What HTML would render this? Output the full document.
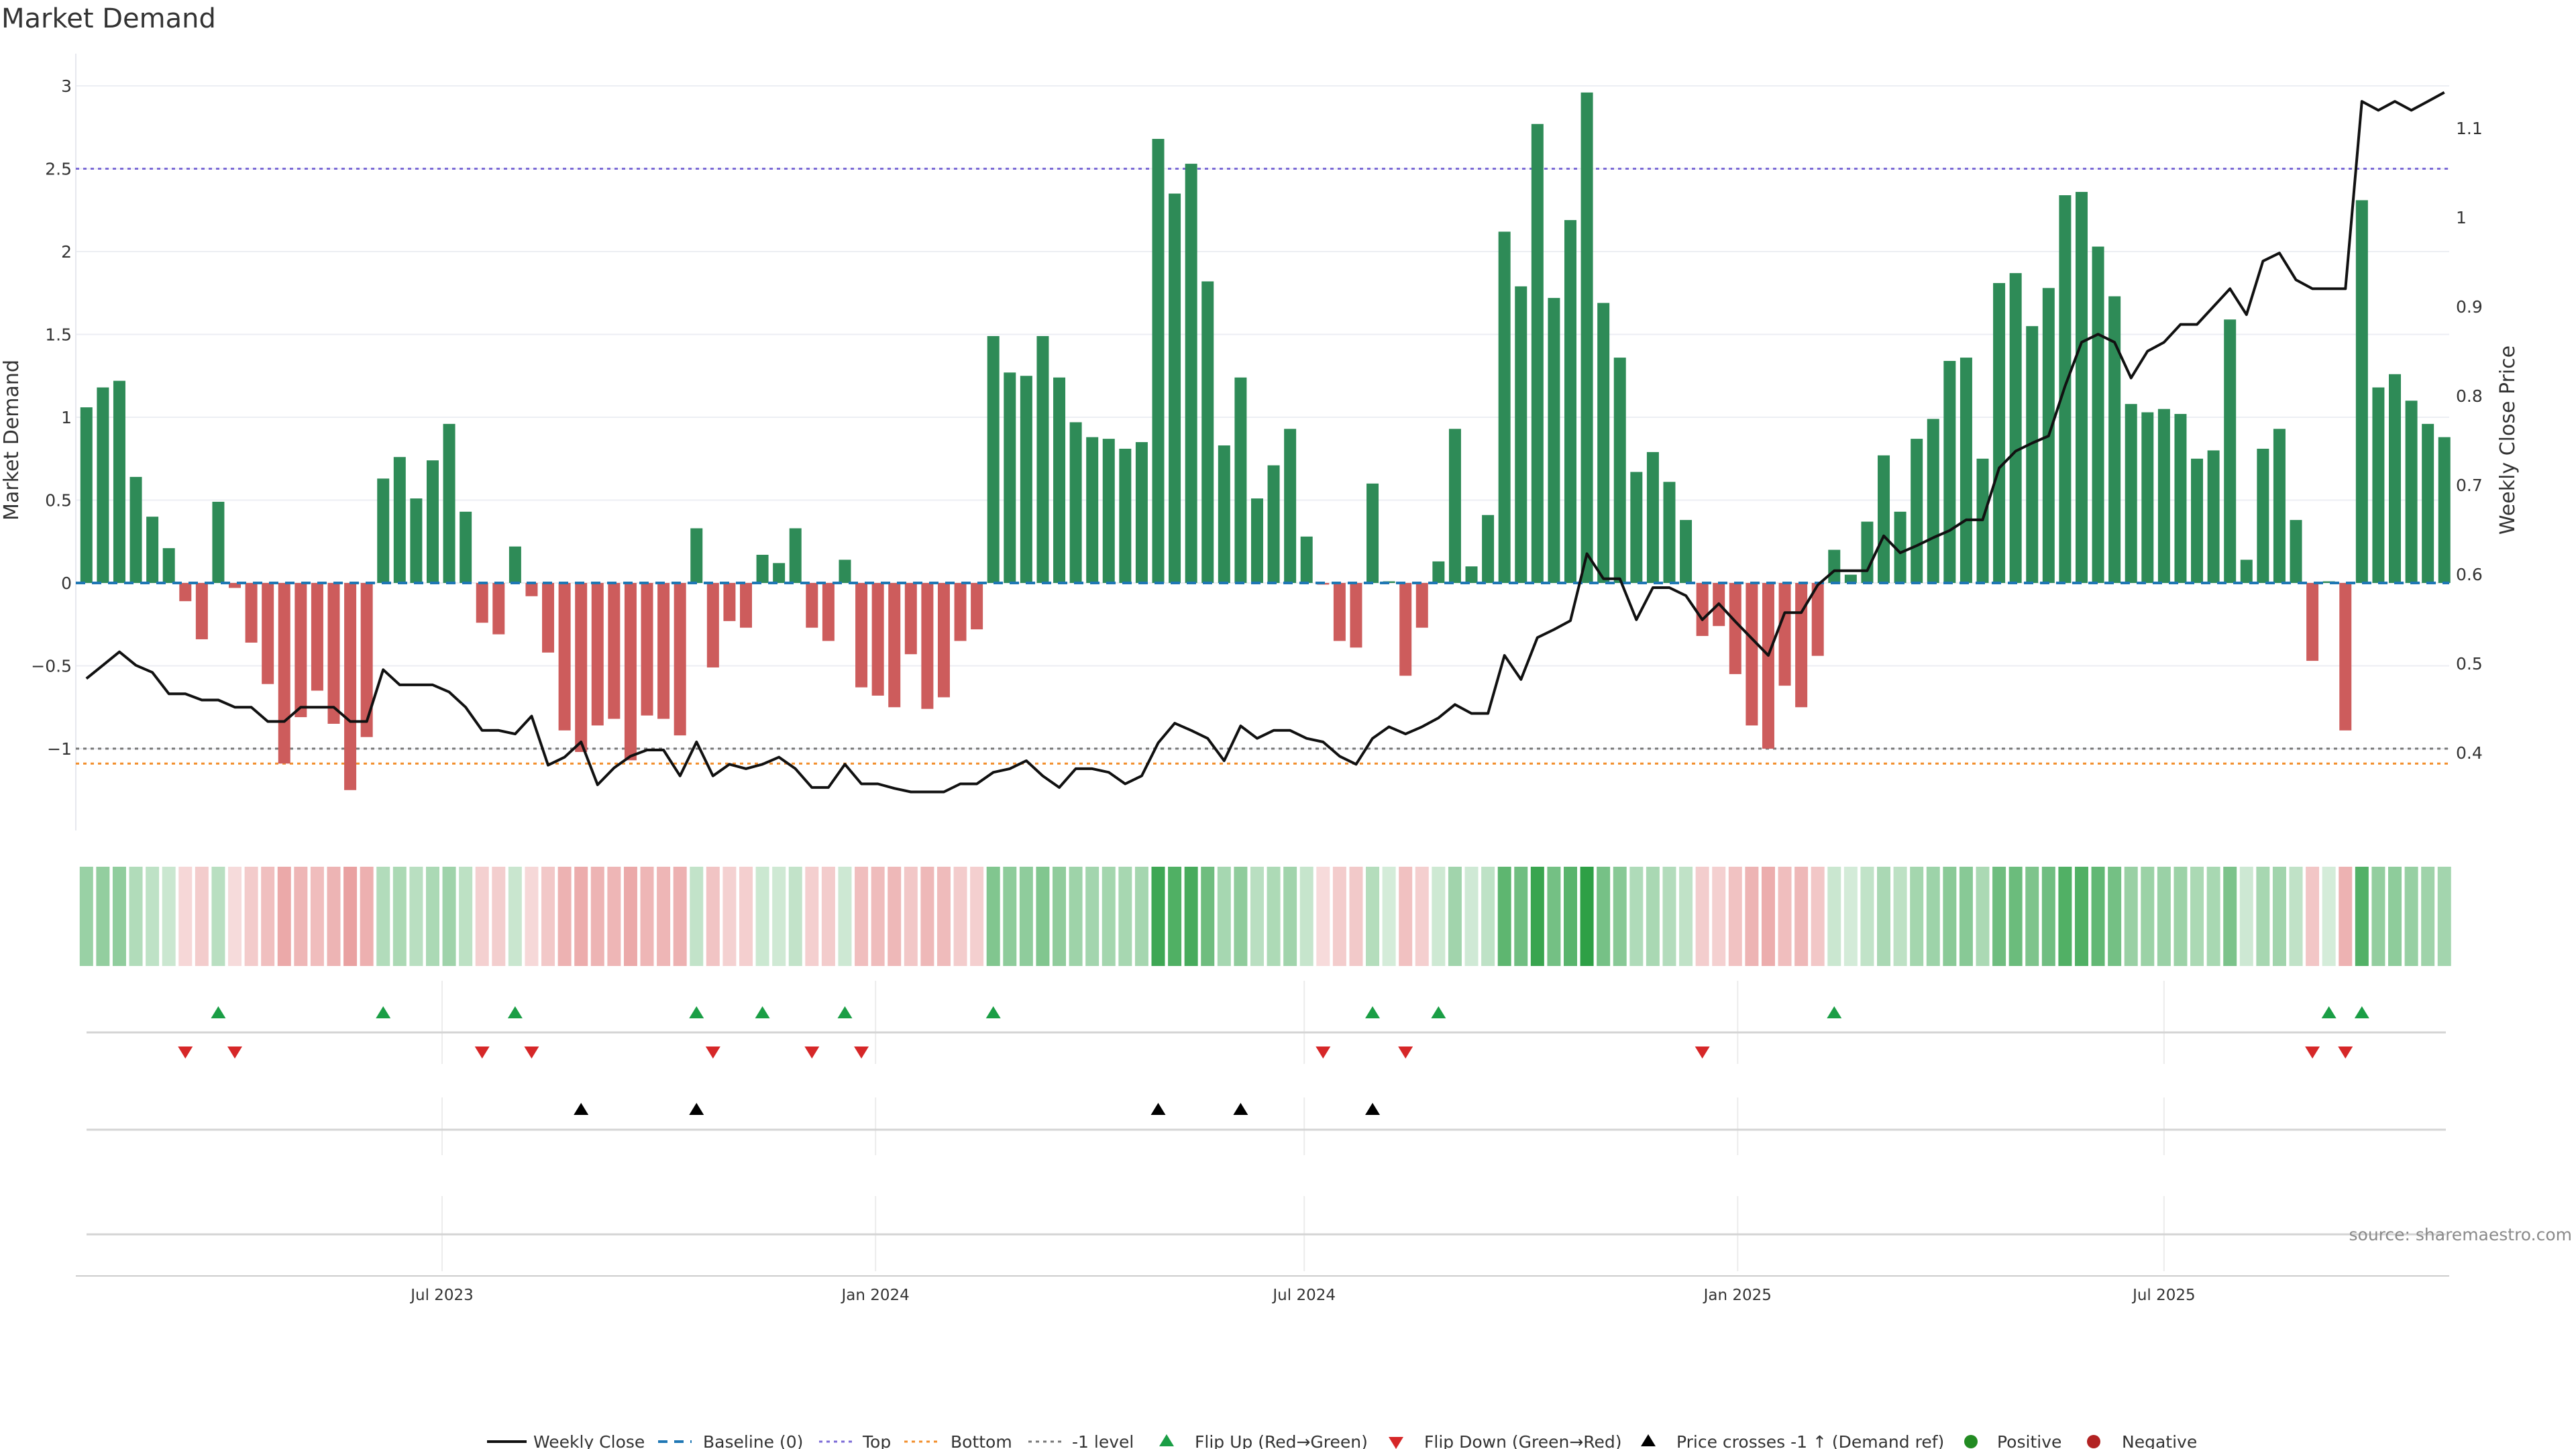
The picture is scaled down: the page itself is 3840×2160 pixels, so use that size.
<!DOCTYPE html>
<html><head><meta charset="utf-8"><title>Market Demand</title>
<style>
html,body{margin:0;padding:0;background:#fff;}
svg{display:block;font-family:"DejaVu Sans","Liberation Sans",sans-serif;}
</style></head>
<body>
<svg id="chart" width="3840" height="2160" viewBox="0 0 3840 2160" xmlns="http://www.w3.org/2000/svg">
<rect width="3840" height="2160" fill="#fff"/>
<text x="2" y="41" font-size="40" fill="#333">Market Demand</text>
<g id="main"></g>
</svg>
<script>
const demand = [1.06,1.18,1.22,0.64,0.40,0.21,-0.11,-0.34,0.49,-0.03,-0.36,-0.61,-1.09,-0.81,-0.65,-0.85,-1.25,-0.93,0.63,0.76,0.51,0.74,0.96,0.43,-0.24,-0.31,0.22,-0.08,-0.42,-0.89,-1.02,-0.86,-0.82,-1.07,-0.80,-0.82,-0.92,0.33,-0.51,-0.23,-0.27,0.17,0.12,0.33,-0.27,-0.35,0.14,-0.63,-0.68,-0.75,-0.43,-0.76,-0.69,-0.35,-0.28,1.49,1.27,1.25,1.49,1.24,0.97,0.88,0.87,0.81,0.85,2.68,2.35,2.53,1.82,0.83,1.24,0.51,0.71,0.93,0.28,-0.01,-0.35,-0.39,0.60,0.01,-0.56,-0.27,0.13,0.93,0.10,0.41,2.12,1.79,2.77,1.72,2.19,2.96,1.69,1.36,0.67,0.79,0.61,0.38,-0.32,-0.26,-0.55,-0.86,-1.00,-0.62,-0.75,-0.44,0.20,0.05,0.37,0.77,0.43,0.87,0.99,1.34,1.36,0.75,1.81,1.87,1.55,1.78,2.34,2.36,2.03,1.73,1.08,1.03,1.05,1.02,0.75,0.80,1.59,0.14,0.81,0.93,0.38,-0.47,0.01,-0.89,2.31,1.18,1.26,1.10,0.96,0.88];
const price = [0.483,0.498,0.513,0.498,0.490,0.466,0.466,0.459,0.459,0.451,0.451,0.435,0.435,0.451,0.451,0.451,0.435,0.435,0.493,0.476,0.476,0.476,0.468,0.451,0.425,0.425,0.421,0.441,0.386,0.395,0.412,0.364,0.383,0.396,0.403,0.403,0.374,0.412,0.374,0.387,0.382,0.387,0.395,0.382,0.361,0.361,0.387,0.365,0.365,0.360,0.356,0.356,0.356,0.365,0.365,0.378,0.382,0.391,0.374,0.361,0.382,0.382,0.378,0.365,0.374,0.411,0.433,0.425,0.416,0.391,0.430,0.416,0.425,0.425,0.416,0.412,0.396,0.387,0.416,0.429,0.421,0.429,0.439,0.454,0.444,0.444,0.509,0.482,0.529,0.538,0.548,0.623,0.595,0.595,0.549,0.585,0.585,0.576,0.549,0.567,0.547,0.528,0.509,0.557,0.557,0.588,0.604,0.604,0.604,0.643,0.624,0.632,0.641,0.649,0.661,0.661,0.719,0.738,0.747,0.755,0.811,0.860,0.869,0.860,0.820,0.850,0.860,0.880,0.880,0.900,0.920,0.891,0.951,0.960,0.930,0.920,0.920,0.920,1.130,1.120,1.130,1.120,1.130,1.140];
const leftTicks = [3,2.5,2,1.5,1,0.5,0,-0.5,-1];
const leftTickLabels = ["3","2.5","2","1.5","1","0.5","0","−0.5","−1"];
const rightTicks = [1.1,1.0,0.9,0.8,0.7,0.6,0.5,0.4];
const rightTickLabels = ["1.1","1","0.9","0.8","0.7","0.6","0.5","0.4"];
const refTop = 2.5;
const refBottom = -1.09;
const refMinus1 = -1;
const crossLevel = 0.405;
const dateTicks = ["2023-07-01","2024-01-01","2024-07-01","2025-01-01","2025-07-01"];
const dateTickLabels = ["Jul 2023","Jan 2024","Jul 2024","Jan 2025","Jul 2025"];
const startDate = "2023-01-31";

const NS = "http://www.w3.org/2000/svg";
const g = document.getElementById('main');
function el(tag, attrs, parent){const e=document.createElementNS(NS,tag);for(const k in attrs)e.setAttribute(k,attrs[k]);(parent||g).appendChild(e);return e;}
const X0=128.8, STEP=24.58;
function xi(i){return X0+i*STEP;}
function yL(v){return 869-247*v;}
function yR(p){return 1122-(p-0.4)*1330;}
const t0=Date.parse(startDate);
function xDate(s){return X0+(Date.parse(s)-t0)/86400000/7*STEP;}
const PL=113, PR=3651;

leftTicks.forEach((v,k)=>{
  const l=el('line',{x1:PL,x2:PR,y1:yL(v),y2:yL(v),stroke:'#eceef3','stroke-width':2});
  
  
  const t=el('text',{x:107,y:yL(v)+9,'text-anchor':'end','font-size':25,fill:'#333'});
  t.textContent=leftTickLabels[k];
  
  
});
rightTicks.forEach((p,k)=>{
  const t=el('text',{x:3661,y:yR(p)+9,'font-size':25,fill:'#333'});
  t.textContent=rightTickLabels[k];
  
  
});
const ax=el('line',{x1:PL,x2:PL,y1:80,y2:1238,stroke:'#e6e8ee','stroke-width':2});



const lt=el('text',{x:0,y:0,'font-size':30,fill:'#333','text-anchor':'middle',transform:'translate(27,656) rotate(-90)'});
lt.textContent='Market Demand';


const rt=el('text',{x:0,y:0,'font-size':30,fill:'#333','text-anchor':'middle',transform:'translate(3748,656) rotate(-90)'});
rt.textContent='Weekly Close Price';



function hline(y,color,dash,name,w){const l=el('line',{x1:PL,x2:PR,y1:y,y2:y,stroke:color,'stroke-width':w||3,'stroke-dasharray':dash});return l;}
hline(yL(refTop),'#7b6ad6','5 6','top-line');
hline(yL(refMinus1),'#777','5 6','minus1-level-line');
hline(yL(refBottom),'#f28e2b','5 6','bottom-line');

const BW=18;
demand.forEach((v,i)=>{
  const y0=yL(0), y1=yL(v);
  const r=el('rect',{x:xi(i)-BW/2,y:Math.min(y0,y1),width:BW,height:Math.max(Math.abs(y1-y0),0.5),fill:v>=0?'#2e8b57':'#cd5c5c'});
  
  
});
hline(yL(0),'#1f77b4','14 10','baseline-zero',4);

const pts=price.map((p,i)=>xi(i).toFixed(1)+','+yR(p).toFixed(1)).join(' ');
const pl=el('polyline',{points:pts,fill:'none',stroke:'#111','stroke-width':4,'stroke-linejoin':'round'});



demand.forEach((v,i)=>{
  const a=Math.min(1,0.2+0.27*Math.abs(v));
  const c=v>=0?`rgba(46,160,70,${a})`:`rgba(214,80,80,${a})`;
  const r=el('rect',{x:xi(i)-10,y:1292,width:20,height:148,fill:c});
  
  
});

[[1462,1586],[1636,1722],[1783,1895]].forEach(([a,b])=>{
  dateTicks.forEach(d=>{
    const l=el('line',{x1:xDate(d),x2:xDate(d),y1:a,y2:b,stroke:'#ececec','stroke-width':2});
    
    
  });
});
[1539,1684,1840].forEach(y=>{
  const l=el('line',{x1:129,x2:3646,y1:y,y2:y,stroke:'#d4d4d4','stroke-width':3});
  
  
});

function tri(x,y,up,color,name){
  const w=11,h=9;
  const p=up?`${x-w},${y+h} ${x+w},${y+h} ${x},${y-h}`:`${x-w},${y-h} ${x+w},${y-h} ${x},${y+h}`;
  const t=el('polygon',{points:p,fill:color});
  
  
}
for(let i=1;i<demand.length;i++){
  if(demand[i-1]<0&&demand[i]>=0) tri(xi(i),1509,true,'#1a9e45','flip-up-marker');
  if(demand[i-1]>=0&&demand[i]<0) tri(xi(i),1569,false,'#d62728','flip-down-marker');
  if(price[i-1]<crossLevel&&price[i]>=crossLevel) tri(xi(i),1653,true,'#000','price-cross-marker');
}

const xa=el('line',{x1:PL,x2:PR,y1:1902,y2:1902,stroke:'#ccc','stroke-width':2});


dateTicks.forEach((d,k)=>{
  const t=el('text',{x:xDate(d),y:1938,'text-anchor':'middle','font-size':23,fill:'#333'});
  t.textContent=dateTickLabels[k];
  
  
});
const src=el('text',{x:3834,y:1849,'text-anchor':'end','font-size':25,fill:'#8a8a8a'});
src.textContent='source: sharemaestro.com';



const LY=2149;
function ltext(x,s){const t=el('text',{x:x,y:LY+9,'font-size':25,fill:'#333'});t.textContent=s;}
function lline(x1,x2,c,dash,w){const l=el('line',{x1:x1,x2:x2,y1:LY,y2:LY,stroke:c,'stroke-width':w,'stroke-dasharray':dash||'none'});}
lline(726,785,'#111',null,4); ltext(795,'Weekly Close');
lline(981,1031,'#1f77b4','14 10',4); ltext(1048,'Baseline (0)');
lline(1221,1271,'#7b6ad6','5 6',3); ltext(1286,'Top');
lline(1348,1398,'#f28e2b','5 6',3); ltext(1417,'Bottom');
lline(1533,1583,'#777','5 6',3); ltext(1598,'-1 level');
tri(1739,LY-2,true,'#1a9e45','legend-flip-up'); ltext(1781,'Flip Up (Red→Green)');
tri(2081,LY+2,false,'#d62728','legend-flip-down'); ltext(2123,'Flip Down (Green→Red)');
tri(2457,LY-2,true,'#000','legend-price-cross'); ltext(2499,'Price crosses -1 ↑ (Demand ref)');
const c1=el('circle',{cx:2938,cy:LY,r:10,fill:'#228b22'});


ltext(2977,'Positive');
const c2=el('circle',{cx:3121,cy:LY,r:10,fill:'#b22222'});


ltext(3163,'Negative');
</script>
</body></html>
